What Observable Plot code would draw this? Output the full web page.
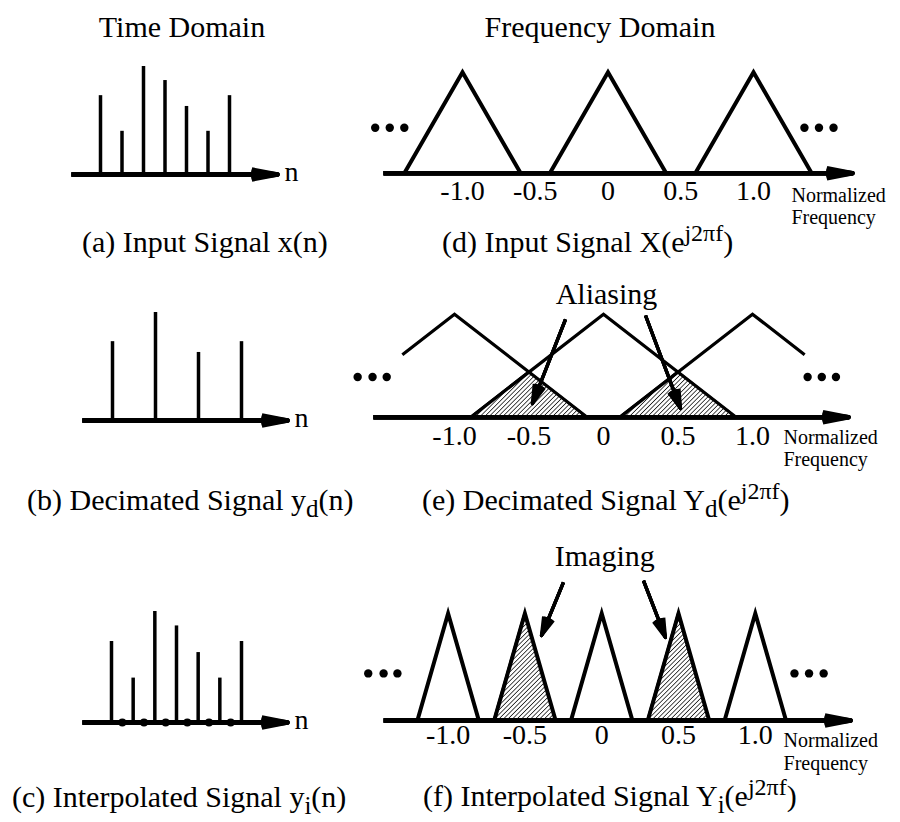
<!DOCTYPE html>
<html>
<head>
<meta charset="utf-8">
<script src="https://cdn.jsdelivr.net/npm/d3@7"></script>
<script src="https://cdn.jsdelivr.net/npm/@observablehq/plot@0.6"></script>
<style>
  html, body { margin: 0; padding: 0; background: #fff; }
  #chart { position: relative; width: 900px; height: 822px; background: #fff; overflow: hidden;
           font-family: "Liberation Serif", "DejaVu Serif", "Times New Roman", Times, serif; color: #000; }
  #chart svg { position: absolute; left: 0; top: 0; background: transparent; overflow: visible; max-width: none; }
  #chart svg text { font-family: "Liberation Serif", "DejaVu Serif", "Times New Roman", Times, serif; }
  .lbl { position: absolute; font-size: 30px; line-height: 30px; white-space: nowrap; }
  .title { text-align: center; width: 400px; }
  .sup { position: relative; top: -11px; font-size: 24px; line-height: 0; }
  .sub { position: relative; top: 7px; font-size: 25px; line-height: 0; }
</style>
</head>
<body>
<div id="chart"></div>
<script>
// ---------------- data ----------------
const sampleIndex = [0, 1, 2, 3, 4, 5, 6];
const inputSamples = [0.73, 0.40, 1.00, 0.87, 0.63, 0.40, 0.73];
const decimationFactor = 2;
const interpolationFactor = 2;

const freqTicks = [-1, -0.5, 0, 0.5, 1];
const freqTickLabels = ["-1.0", "-0.5", "0", "0.5", "1.0"];

const inputSpectrumCenters = [-1, 0, 1];
const inputSpectrumHalfWidth = 0.4;

const decimatedSpectrumCenters = [-1, 0, 1];
const decimatedSpectrumHalfWidth = 0.89;
const decimatedVisibleBand = [-1.35, 1.35];
const aliasingPairs = [[-1, 0], [0, 1]];

const interpolatedSpectrumCenters = [-1, -0.5, 0, 0.5, 1];
const interpolatedSpectrumHalfWidth = 0.2;
const imagingCenters = [-0.5, 0.5];

const ellipsisInput = [-1.6, -1.5, -1.4, 1.35, 1.45, 1.55];
const ellipsisDecimated = [-1.65, -1.55, -1.455, 1.37, 1.465, 1.56];
const ellipsisInterpolated = [-1.52, -1.42, -1.33, 1.255, 1.35, 1.445];
const ellipsisLevel = {d: 0.45, e: 0.39, f: 0.44};

const aliasingArrows = [
  {f1: -0.255, a1: 0.95, f2: -0.477, a2: 0.133},
  {f1: 0.282, a1: 0.987, f2: 0.517, a2: 0.084}
];
const imagingArrows = [
  {f1: -0.249, a1: 1.29, f2: -0.392, a2: 0.794},
  {f1: 0.272, a1: 1.308, f2: 0.415, a2: 0.776}
];
const aliasingLabel = [{text: "Aliasing", f: 0.02, a: 1.1}];
const imagingLabel = [{text: "Imaging", f: 0.02, a: 1.44}];

const timeAxisExtent = {a: [-1.35, 8.23], b: [-1.4, 8.14], c: [-1.34, 8.12]};
const freqAxisExtent = {d: [-1.543, 1.68], e: [-1.544, 1.644], f: [-1.42, 1.62]};

const timeAxisLabel = "n";
const freqAxisLabel = "Normalized\nFrequency";
const titles = ["Time Domain", "Frequency Domain"];
const captions = [
  {id: "a", parts: [["", "(a) Input Signal x(n)"]]},
  {id: "b", parts: [["", "(b) Decimated Signal y"], ["sub", "d"], ["", "(n)"]]},
  {id: "c", parts: [["", "(c) Interpolated Signal y"], ["sub", "i"], ["", "(n)"]]},
  {id: "d", parts: [["", "(d) Input Signal X(e"], ["sup", "j2\u03c0f"], ["", ")"]]},
  {id: "e", parts: [["", "(e) Decimated Signal Y"], ["sub", "d"], ["", "(e"], ["sup", "j2\u03c0f"], ["", ")"]]},
  {id: "f", parts: [["", "(f) Interpolated Signal Y"], ["sub", "i"], ["", "(e"], ["sup", "j2\u03c0f"], ["", ")"]]}
];

// ---------------- layout (pixels) ----------------
const layout = {
  a: {x: [100, 229], y: [174, 66]},
  b: {x: [112, 241], y: [420, 312]},
  c: {x: [111, 241], y: [722, 611]},
  d: {x: [462, 753], y: [172.7, 71.7], tickDy: 27, nfDx: -61, nfDy: 51, lw: 4},
  e: {x: [454, 752], y: [416.7, 313.7], tickDy: 28, nfDx: -65, nfDy: 49, lw: 3.2},
  f: {x: [447.6, 754.8], y: [720, 613], tickDy: 23, nfDx: -67, nfDy: 49, lw: 4}
};
const titlePos = [{cx: 182, base: 37}, {cx: 600, base: 37}];
const captionPos = {a: [82, 252], b: [27, 510], c: [12, 807], d: [442, 252], e: [422, 510], f: [423, 806]};

const FONT = '"Liberation Serif", "DejaVu Serif", "Times New Roman", Times, serif';
const chart = document.getElementById("chart");

// ---------------- helpers ----------------
function panel(key, xDomain, marks, defsId) {
  const L = layout[key];
  const svg = Plot.plot({
    width: 900, height: 822, margin: 0,
    x: {domain: xDomain, range: L.x, axis: null},
    y: {domain: [0, 1], range: L.y, axis: null},
    style: {fontFamily: FONT, background: "transparent", overflow: "visible"},
    marks
  });
  if (defsId) addHatch(svg, defsId);
  chart.appendChild(svg);
  return svg;
}

function addHatch(svg, id) {
  const ns = "http://www.w3.org/2000/svg";
  const defs = document.createElementNS(ns, "defs");
  const pat = document.createElementNS(ns, "pattern");
  pat.setAttribute("id", id);
  pat.setAttribute("patternUnits", "userSpaceOnUse");
  pat.setAttribute("width", "3.2");
  pat.setAttribute("height", "3.2");
  pat.setAttribute("patternTransform", "rotate(45)");
  const ln = document.createElementNS(ns, "line");
  ln.setAttribute("x1", "0"); ln.setAttribute("y1", "0");
  ln.setAttribute("x2", "0"); ln.setAttribute("y2", "3.2");
  ln.setAttribute("stroke", "black");
  ln.setAttribute("stroke-width", "1.4");
  pat.appendChild(ln);
  defs.appendChild(pat);
  svg.insertBefore(defs, svg.firstChild);
}

function filledArrows(data, {x1, y1, x2, y2, strokeWidth, headLength, angles}) {
  return angles.map(a => Plot.arrow(data, {
    x1, y1, x2, y2, stroke: "black", strokeWidth, headLength, headAngle: a,
    strokeLinecap: "butt", strokeLinejoin: "round"
  }));
}

function axisArrow([start, end], sw) {
  return filledArrows([{s: start, e: end, z: 0}], {
    x1: "s", x2: "e", y1: "z", y2: "z", strokeWidth: sw, headLength: 8.7, angles: [22, 15, 8, 2]
  });
}

function triangleVertices(centers, half, lo = -Infinity, hi = Infinity) {
  const level = (c, f) => Math.max(0, 1 - Math.abs(f - c) / half);
  return centers.flatMap(c => {
    const pts = [c - half, c, c + half].filter(f => f >= lo && f <= hi);
    if (c - half < lo) pts.unshift(lo);
    if (c + half > hi) pts.push(hi);
    return pts.map(f => ({c, f, a: level(c, f)}));
  });
}

function overlapVertices(pairs, half) {
  const level = (c, f) => Math.max(0, 1 - Math.abs(f - c) / half);
  return pairs.flatMap(([c0, c1], k) => {
    const lo = c1 - half, hi = c0 + half, mid = (c0 + c1) / 2;
    return [lo, mid, hi].map(f => ({k, f, a: Math.min(level(c0, f), level(c1, f))}));
  });
}

function tickLabels(key) {
  return Plot.text(freqTicks.map((f, i) => ({f, a: 0, t: freqTickLabels[i]})), {
    x: "f", y: "a", text: "t", dy: layout[key].tickDy, lineAnchor: "bottom",
    textAnchor: "middle", fontSize: 28, fontFamily: FONT, fill: "black"
  });
}

function freqLabel(key) {
  const L = layout[key];
  return Plot.text([{f: freqAxisExtent[key][1], a: 0, t: freqAxisLabel}], {
    x: "f", y: "a", text: "t", dx: L.nfDx, dy: L.nfDy, textAnchor: "start", lineAnchor: "bottom",
    lineHeight: 1.12, fontSize: 20, fontFamily: FONT, fill: "black"
  });
}

function ellipsis(key, positions) {
  return Plot.dot(positions.map(f => ({f, a: ellipsisLevel[key]})), {
    x: "f", y: "a", r: 4.2, fill: "black", stroke: "none"
  });
}

function timeLabel(key) {
  return Plot.text([{n: timeAxisExtent[key][1], v: 0, t: timeAxisLabel}], {
    x: "n", y: "v", text: "t", dx: 7, dy: 6, textAnchor: "start", lineAnchor: "bottom",
    fontSize: 28, fontFamily: FONT, fill: "black"
  });
}

// ---------------- time domain ----------------
const inputData = sampleIndex.map((n, i) => ({n, v: inputSamples[i]}));
const decimatedData = sampleIndex.filter(n => n % decimationFactor === 0).map(n => ({n, v: inputSamples[n]}));
const interpolatedData = d3.range((sampleIndex.length - 1) * interpolationFactor + 1).map(m => ({
  n: m / interpolationFactor,
  v: m % interpolationFactor === 0 ? inputSamples[m / interpolationFactor] : 0
}));

panel("a", [0, 6], [
  Plot.ruleX(inputData, {x: "n", y1: d => 0, y2: "v", stroke: "black", strokeWidth: 3.5}),
  ...axisArrow(timeAxisExtent.a, 4.5),
  timeLabel("a")
]);

panel("b", [0, 6], [
  Plot.ruleX(decimatedData, {x: "n", y1: d => 0, y2: "v", stroke: "black", strokeWidth: 3.5}),
  ...axisArrow(timeAxisExtent.b, 4.5),
  timeLabel("b")
]);

panel("c", [0, 6], [
  Plot.ruleX(interpolatedData.filter(d => d.v > 0), {x: "n", y1: d => 0, y2: "v", stroke: "black", strokeWidth: 3.5}),
  ...axisArrow(timeAxisExtent.c, 4.5),
  Plot.dot(interpolatedData.filter(d => d.v === 0), {x: "n", y: "v", r: 4, fill: "black", stroke: "none"}),
  timeLabel("c")
]);

// ---------------- frequency domain ----------------
panel("d", [-1, 1], [
  Plot.line(triangleVertices(inputSpectrumCenters, inputSpectrumHalfWidth), {
    x: "f", y: "a", z: "c", stroke: "black", strokeWidth: layout.d.lw,
    strokeLinejoin: "miter", strokeMiterlimit: 10, strokeLinecap: "butt"
  }),
  ...axisArrow(freqAxisExtent.d, 4.5),
  ellipsis("d", ellipsisInput),
  tickLabels("d"),
  freqLabel("d")
]);

panel("e", [-1, 1], [
  Plot.areaY(overlapVertices(aliasingPairs, decimatedSpectrumHalfWidth), {
    x: "f", y: "a", z: "k", fill: "url(#hatchE)", stroke: "black", strokeWidth: 2, strokeLinejoin: "miter"
  }),
  Plot.line(triangleVertices(decimatedSpectrumCenters, decimatedSpectrumHalfWidth, ...decimatedVisibleBand), {
    x: "f", y: "a", z: "c", stroke: "black", strokeWidth: layout.e.lw,
    strokeLinejoin: "miter", strokeMiterlimit: 10, strokeLinecap: "butt"
  }),
  ...axisArrow(freqAxisExtent.e, 4.5),
  ...filledArrows(aliasingArrows, {x1: "f1", y1: "a1", x2: "f2", y2: "a2", strokeWidth: 3.3, headLength: 9, angles: [32, 22, 12, 4]}),
  ellipsis("e", ellipsisDecimated),
  Plot.text(aliasingLabel, {x: "f", y: "a", text: "text", lineAnchor: "bottom", fontSize: 30, fontFamily: FONT, fill: "black"}),
  tickLabels("e"),
  freqLabel("e")
], "hatchE");

panel("f", [-1, 1], [
  Plot.areaY(triangleVertices(imagingCenters, interpolatedSpectrumHalfWidth), {
    x: "f", y: "a", z: "c", fill: "url(#hatchF)", stroke: "black", strokeWidth: 2, strokeLinejoin: "miter"
  }),
  Plot.line(triangleVertices(interpolatedSpectrumCenters, interpolatedSpectrumHalfWidth), {
    x: "f", y: "a", z: "c", stroke: "black", strokeWidth: layout.f.lw,
    strokeLinejoin: "miter", strokeMiterlimit: 10, strokeLinecap: "butt"
  }),
  ...axisArrow(freqAxisExtent.f, 4.5),
  ...filledArrows(imagingArrows, {x1: "f1", y1: "a1", x2: "f2", y2: "a2", strokeWidth: 3.3, headLength: 9, angles: [32, 22, 12, 4]}),
  ellipsis("f", ellipsisInterpolated),
  Plot.text(imagingLabel, {x: "f", y: "a", text: "text", lineAnchor: "bottom", fontSize: 30, fontFamily: FONT, fill: "black"}),
  tickLabels("f"),
  freqLabel("f")
], "hatchF");

// ---------------- titles & captions (HTML text) ----------------
titles.forEach((t, i) => {
  const div = document.createElement("div");
  div.className = "lbl title";
  div.textContent = t;
  div.style.left = (titlePos[i].cx - 200) + "px";
  div.style.top = (titlePos[i].base - 25) + "px";
  chart.appendChild(div);
});

captions.forEach(cap => {
  const div = document.createElement("div");
  div.className = "lbl";
  const [left, base] = captionPos[cap.id];
  div.style.left = left + "px";
  div.style.top = (base - 25) + "px";
  cap.parts.forEach(([kind, txt]) => {
    const span = document.createElement("span");
    if (kind) span.className = kind;
    span.textContent = txt;
    div.appendChild(span);
  });
  chart.appendChild(div);
});
</script>
</body>
</html>
